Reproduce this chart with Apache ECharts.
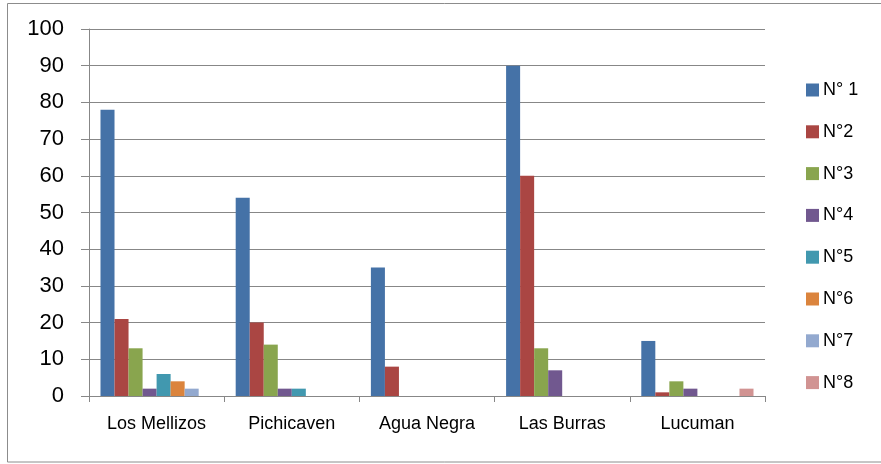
<!DOCTYPE html>
<html>
<head>
<meta charset="utf-8">
<script src="https://cdn.jsdelivr.net/npm/echarts@6/dist/echarts.min.js"></script>
<style>
  html, body { margin: 0; padding: 0; background: #fff; }
  #chart { width: 881px; height: 464px; }
</style>
</head>
<body>
<div id="chart"></div>
<script>
// Sites along the x axis
const categories = ['Los Mellizos', 'Pichicaven', 'Agua Negra', 'Las Burras', 'Lucuman'];

// One series per numbered group; null where no bar is drawn
const seriesNames = ['N° 1', 'N°2', 'N°3', 'N°4', 'N°5', 'N°6', 'N°7', 'N°8'];
const n1 = [78, 54, 35, 90, 15];
const n2 = [21, 20, 8, 60, 1];
const n3 = [13, 14, null, 13, 4];
const n4 = [2, 2, null, 7, 2];
const n5 = [6, 2, null, null, null];
const n6 = [4, null, null, null, null];
const n7 = [2, null, null, null, null];
const n8 = [null, null, null, null, 2];

const yTicks = [0, 10, 20, 30, 40, 50, 60, 70, 80, 90, 100];

const palette = ['#4572A7', '#AA4643', '#89A54E', '#71588F', '#4198AF', '#DB843D', '#93A9CF', '#D19392'];
const values = [n1, n2, n3, n4, n5, n6, n7, n8];

const chart = echarts.init(document.getElementById('chart'));
const FONT = 'Liberation Sans';
const GRID = '#878787';

chart.setOption({
  animation: false,
  color: palette,
  textStyle: { fontFamily: FONT, color: '#000' },
  graphic: [{
    type: 'rect',
    shape: { x: 7.5, y: 3.5, width: 880, height: 458.5 },
    style: { fill: 'none', stroke: '#8c8c8c', lineWidth: 1 },
    silent: true
  }],
  grid: { left: 89, right: 116, top: 29, bottom: 68 },
  legend: {
    orient: 'vertical',
    left: 801,
    top: 76,
    itemWidth: 13,
    itemHeight: 13,
    itemGap: 23.8,
    icon: 'rect',
    textStyle: { fontFamily: FONT, fontSize: 18, color: '#000', padding: [0, 0, 0, -1] },
    data: seriesNames
  },
  xAxis: {
    type: 'category',
    data: categories,
    axisLine: { lineStyle: { color: GRID, width: 1 } },
    axisTick: { show: true, length: 6, lineStyle: { color: GRID } },
    axisLabel: { fontFamily: FONT, fontSize: 18, color: '#000', margin: 19 }
  },
  yAxis: {
    type: 'value',
    min: yTicks[0],
    max: yTicks[yTicks.length - 1],
    interval: yTicks[1] - yTicks[0],
    axisLine: { show: true, lineStyle: { color: GRID, width: 1 } },
    axisTick: { show: true, inside: false, length: 8, lineStyle: { color: GRID } },
    axisLabel: { fontFamily: FONT, fontSize: 22, color: '#000', margin: 25 },
    splitLine: { show: true, lineStyle: { color: GRID, width: 1 } }
  },
  series: seriesNames.map((name, i) => ({
    name: name,
    type: 'bar',
    data: values[i],
    barGap: '0%',
    barCategoryGap: '17%',
    itemStyle: { color: palette[i] }
  }))
});
</script>
</body>
</html>
